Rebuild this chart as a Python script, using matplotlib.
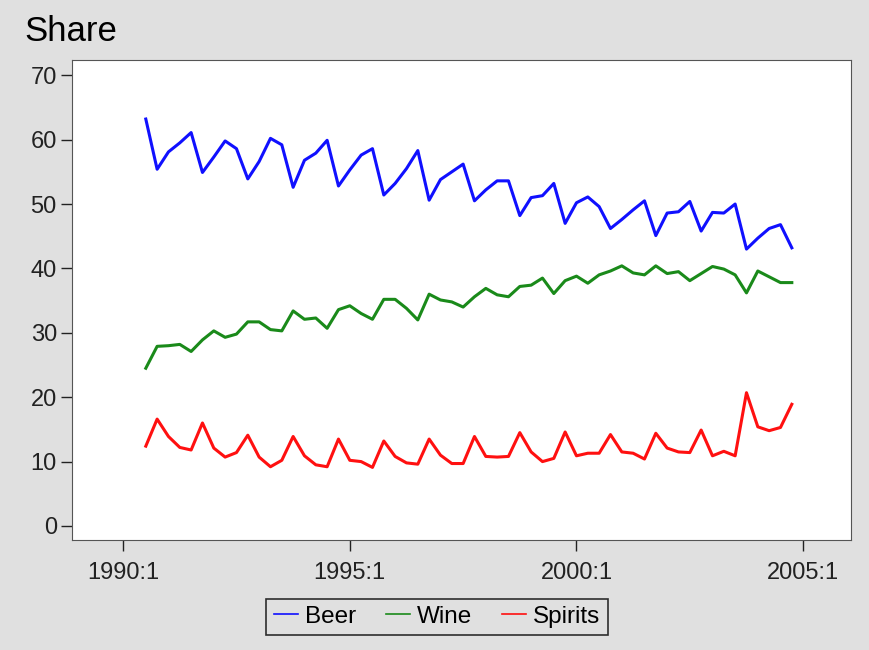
import numpy as np
import matplotlib.pyplot as plt

plt.rcParams['font.family'] = ['Liberation Sans', 'DejaVu Sans']

# quarters counted from 1990:1 (=0); data runs 1990:3 .. 2004:4
quarter = np.arange(2, 60)

beer = [63.2, 55.4, 58.1, 59.5, 61.1, 54.9, 57.3, 59.8, 58.6, 53.9,
        56.6, 60.2, 59.2, 52.6, 56.8, 57.9, 59.9, 52.8, 55.3, 57.6,
        58.6, 51.4, 53.2, 55.5, 58.3, 50.6, 53.8, 55.0, 56.2, 50.5,
        52.2, 53.6, 53.6, 48.2, 51.0, 51.3, 53.2, 47.0, 50.2, 51.1,
        49.6, 46.2, 47.6, 49.1, 50.5, 45.1, 48.6, 48.8, 50.4, 45.8,
        48.7, 48.6, 50.0, 43.0, 44.7, 46.2, 46.8, 43.2]
wine = [24.5, 27.9, 28.0, 28.2, 27.1, 28.9, 30.3, 29.3, 29.8, 31.7,
        31.7, 30.5, 30.3, 33.4, 32.1, 32.3, 30.7, 33.6, 34.2, 33.0,
        32.1, 35.2, 35.2, 33.8, 32.0, 36.0, 35.1, 34.8, 34.0, 35.6,
        36.9, 35.9, 35.6, 37.2, 37.4, 38.5, 36.1, 38.1, 38.8, 37.7,
        39.0, 39.6, 40.4, 39.3, 39.0, 40.4, 39.2, 39.5, 38.1, 39.2,
        40.3, 39.9, 39.0, 36.2, 39.6, 38.7, 37.8, 37.8]
spirits = [12.4, 16.6, 13.9, 12.2, 11.8, 16.0, 12.1, 10.7, 11.4, 14.1,
           10.7, 9.2, 10.2, 13.9, 10.9, 9.5, 9.2, 13.5, 10.2, 10.0,
           9.1, 13.2, 10.8, 9.8, 9.6, 13.5, 11.0, 9.7, 9.7, 13.9,
           10.8, 10.7, 10.8, 14.5, 11.5, 10.0, 10.5, 14.6, 10.9, 11.3,
           11.3, 14.2, 11.5, 11.3, 10.4, 14.4, 12.1, 11.5, 11.4, 14.9,
           10.9, 11.6, 10.9, 20.7, 15.4, 14.8, 15.3, 18.9]

xtick_pos = [0, 20, 40, 60]
xtick_lab = ["1990:1", "1995:1", "2000:1", "2005:1"]
yticks = [0, 10, 20, 30, 40, 50, 60, 70]

fig = plt.figure(figsize=(8.69, 6.5), dpi=100)
fig.patch.set_facecolor('#e0e0e0')
ax = fig.add_axes([0.083, 0.169, 0.896, 0.739])
ax.set_facecolor('white')

l1, = ax.plot(quarter, beer, color='#1010ff', lw=2.2, label='Beer')
l2, = ax.plot(quarter, wine, color='#1a8a1a', lw=2.2, label='Wine')
l3, = ax.plot(quarter, spirits, color='#ff1010', lw=2.2, label='Spirits')

ax.set_xlim(-4.5, 64.2)
ax.set_ylim(-2.2, 72.4)
ax.set_xticks(xtick_pos)
ax.set_xticklabels(xtick_lab)
ax.set_yticks(yticks)
ax.tick_params(direction='out', length=8, width=1, labelsize=17, colors='#222222')
ax.tick_params(axis='x', pad=8)
ax.tick_params(axis='y', pad=3)
for s in ax.spines.values():
    s.set_color('#555555')

fig.text(0.028, 0.952, "Share", fontsize=25, va='center', ha='left')

leg = fig.legend(handles=[l1, l2, l3], loc='center', bbox_to_anchor=(0.503, 0.051),
                 ncol=3, fontsize=17.5, frameon=True, fancybox=False,
                 handlelength=1.0, handletextpad=0.3, columnspacing=1.2,
                 borderpad=0.3)
leg.get_frame().set_edgecolor('black')
leg.get_frame().set_facecolor('#e0e0e0')
leg.get_frame().set_linewidth(1.2)
for h in leg.get_lines():
    h.set_linewidth(1.2)

fig.savefig('out.png', dpi=100, facecolor=fig.get_facecolor())
